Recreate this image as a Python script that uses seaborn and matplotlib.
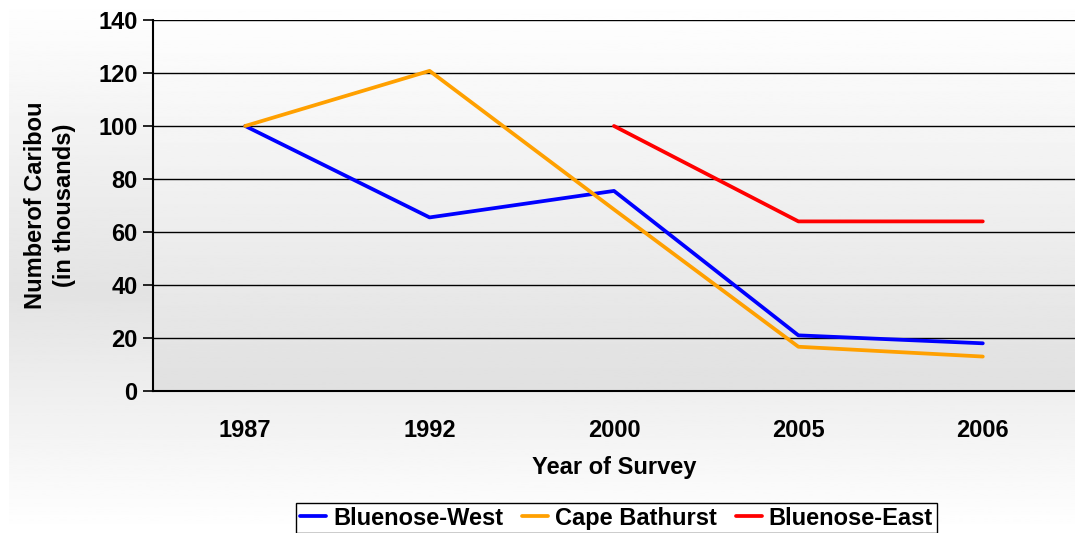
import seaborn as sns
import pandas as pd
import matplotlib.pyplot as plt
import numpy as np

years = ['1987', '1992', '2000', '2005', '2006']
bluenose_west = [100, 65.5, 75.5, 21, 18]
cape_bathurst = [100, 120.8, 68.5, 16.7, 13]
bluenose_east = [np.nan, np.nan, 100, 64, 64]
series = ['Bluenose-West', 'Cape Bathurst', 'Bluenose-East']
colors = ['#0000ff', '#ffa000', '#ff0000']

df = pd.DataFrame({'year': years * 3,
                   'herd': np.repeat(series, len(years)),
                   'count': bluenose_west + cape_bathurst + bluenose_east})
df = df.dropna()

sns.set_style('white')
plt.rcParams['font.family'] = ['Liberation Sans', 'DejaVu Sans']
plt.rcParams['font.weight'] = 'bold'
plt.rcParams['text.color'] = 'black'
plt.rcParams['axes.labelcolor'] = 'black'
plt.rcParams['xtick.color'] = 'black'
plt.rcParams['ytick.color'] = 'black'

fig = plt.figure(figsize=(10.75, 5.33), dpi=100)

# figure background: white -> gray -> white
bg = fig.add_axes([0.008, 0, 0.992, 1], zorder=-10)
t = np.linspace(0, 1, 256)
shade = np.where(t < 0.55, 1 - 0.11 * (t / 0.55), 0.89 + 0.11 * ((t - 0.55) / 0.45))
bg.imshow(shade[:, None], cmap='gray', vmin=0, vmax=1, aspect='auto',
          extent=[0, 1, 1, 0])
bg.axis('off')

ax = fig.add_axes([0.1423, 0.2664, 0.8577, 0.6961])
ax.patch.set_alpha(0)
grad = np.linspace(0.995, 0.88, 256)
ax.imshow(grad[:, None], cmap='gray', vmin=0, vmax=1, aspect='auto',
          extent=[-0.5, 4.5, 0, 140], zorder=0)

sns.lineplot(data=df, x='year', y='count', hue='herd', hue_order=series,
             palette=colors, linewidth=2.7, ax=ax, zorder=3, sort=False)

ax.set_xlim(-0.5, 4.5)
ax.set_ylim(0, 140)
ax.set_yticks(range(0, 141, 20))
ax.yaxis.grid(True, color='black', linewidth=1.0, zorder=1)
ax.set_axisbelow(True)
ax.set_xticks(range(len(years)))
ax.set_xticklabels(years)
ax.set_xticks(np.arange(-0.5, 4.6, 1), minor=True)
ax.tick_params(axis='x', which='major', length=0, pad=20, labelsize=17)
ax.tick_params(axis='x', which='minor', length=7, color='#707070', width=1.2,
               direction='out')
ax.tick_params(axis='y', length=7, width=1.2, color='black', direction='out',
               labelsize=17, pad=4, left=True)
for lbl in ax.get_xticklabels() + ax.get_yticklabels():
    lbl.set_fontweight('bold')

for s in ['top', 'right']:
    ax.spines[s].set_visible(False)
ax.spines['left'].set_color('black')
ax.spines['left'].set_linewidth(1.5)
ax.spines['bottom'].set_color('black')
ax.spines['bottom'].set_linewidth(1.5)

ax.set_xlabel('Year of Survey', fontsize=17, fontweight='bold', labelpad=10)
ax.set_ylabel('Numberof Caribou\n(in thousands)', fontsize=17,
              fontweight='bold', labelpad=16, linespacing=1.35)

ax.get_legend().remove()
handles, labels = ax.get_legend_handles_labels()
leg = fig.legend(handles, labels, loc='upper center',
                 bbox_to_anchor=(0.5735, 0.0563), ncol=3, frameon=True,
                 fancybox=False, edgecolor='black', framealpha=1,
                 facecolor='white', prop={'size': 17, 'weight': 'bold'},
                 handlelength=1.1, handletextpad=0.3, columnspacing=0.8,
                 borderpad=0.15, borderaxespad=0)
leg.get_frame().set_linewidth(1.0)

fig.savefig('out.png', dpi=100)
